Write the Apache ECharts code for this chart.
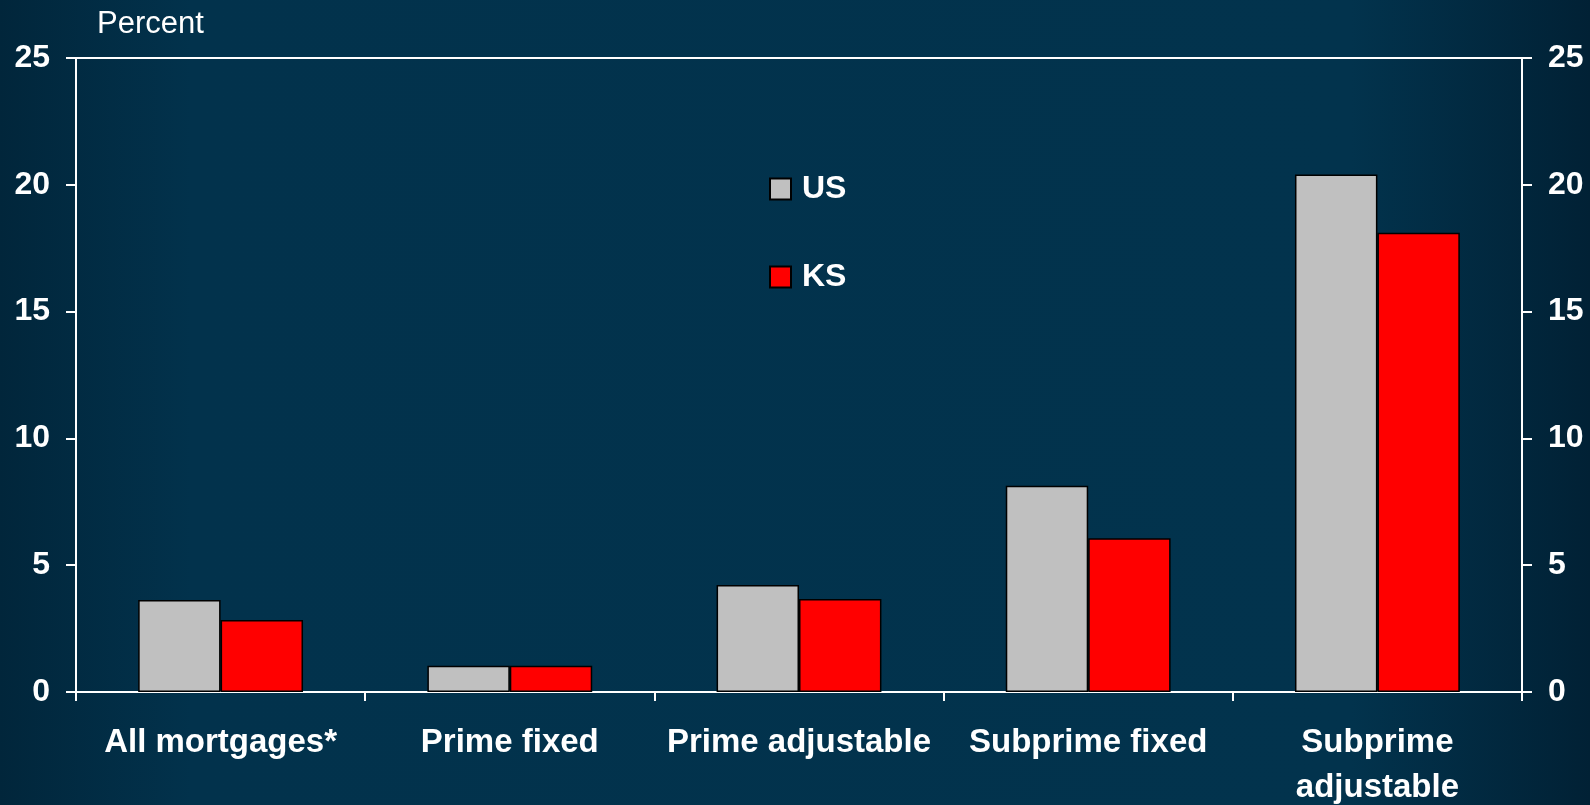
<!DOCTYPE html>
<html>
<head>
<meta charset="utf-8">
<script src="https://cdn.jsdelivr.net/npm/echarts@6/dist/echarts.min.js"></script>
<style>
  html, body { margin: 0; padding: 0; }
  #chart { width: 1590px; height: 805px; }
</style>
</head>
<body>
<div id="chart"></div>
<script>
const categories = ['All mortgages*', 'Prime fixed', 'Prime adjustable', 'Subprime fixed', 'Subprime\nadjustable'];
const usValues = [3.63, 1.04, 4.22, 8.13, 20.41];
const ksValues = [2.84, 1.04, 3.67, 6.06, 18.11];
const yTicks = [0, 5, 10, 15, 20, 25];

const chart = echarts.init(document.getElementById('chart'));
const font = 'Liberation Sans, Arial, sans-serif';

const yAxisBase = {
  type: 'value',
  min: 0,
  max: 25,
  interval: 5,
  axisLine: {show: true, lineStyle: {color: '#ffffff', width: 2}},
  axisTick: {show: true, length: 10, lineStyle: {color: '#ffffff', width: 2}},
  splitLine: {show: false},
  axisLabel: {
    color: '#ffffff', fontFamily: font, fontWeight: 'bold', fontSize: 32, margin: 26,
    formatter: v => (yTicks.includes(v) ? String(v) : '')
  }
};

chart.setOption({
  backgroundColor: new echarts.graphic.LinearGradient(0, 0, 1, 0, [
    {offset: 0, color: '#01263b'},
    {offset: 0.12, color: '#02324c'},
    {offset: 0.85, color: '#02334d'},
    {offset: 1, color: '#012135'}
  ]),
  title: {
    text: 'Percent',
    left: 92,
    top: 4,
    textStyle: {color: '#ffffff', fontFamily: font, fontWeight: 'normal', fontSize: 31}
  },
  legend: {
    orient: 'vertical',
    left: 764,
    top: 168,
    itemWidth: 21,
    itemHeight: 21,
    itemGap: 56,
    icon: 'rect',
    itemStyle: {borderColor: '#000000', borderWidth: 2},
    textStyle: {color: '#ffffff', fontFamily: font, fontWeight: 'bold', fontSize: 32, padding: [0, 0, 0, 6]},
    data: ['US', 'KS']
  },
  grid: {left: 76, right: 68, top: 58, bottom: 113, containLabel: false, outerBoundsMode: 'none'},
  xAxis: {
    type: 'category',
    data: categories,
    axisLine: {show: true, lineStyle: {color: '#ffffff', width: 2}},
    axisTick: {show: true, length: 9, inside: false, lineStyle: {color: '#ffffff', width: 2}},
    axisLabel: {
      color: '#ffffff', fontFamily: font, fontWeight: 'bold', fontSize: 33,
      lineHeight: 45, margin: 28, interval: 0
    }
  },
  yAxis: [
    Object.assign({}, yAxisBase, {
      position: 'left',
      // only the top line (at 25) is drawn, as a frame edge
      splitLine: {
        show: true,
        lineStyle: {
          width: 2,
          color: ['rgba(0,0,0,0)', 'rgba(0,0,0,0)', 'rgba(0,0,0,0)', 'rgba(0,0,0,0)', 'rgba(0,0,0,0)', '#ffffff']
        }
      }
    }),
    Object.assign({}, yAxisBase, {position: 'right'})
  ],
  series: [
    {
      name: 'US',
      type: 'bar',
      data: usValues,
      barGap: '0%',
      barCategoryGap: '43%',
      itemStyle: {color: '#c0c0c0', borderColor: '#000000', borderWidth: 1.5}
    },
    {
      name: 'KS',
      type: 'bar',
      data: ksValues,
      barGap: '0%',
      barCategoryGap: '43%',
      itemStyle: {color: '#ff0000', borderColor: '#000000', borderWidth: 1.5}
    }
  ]
});
</script>
</body>
</html>
